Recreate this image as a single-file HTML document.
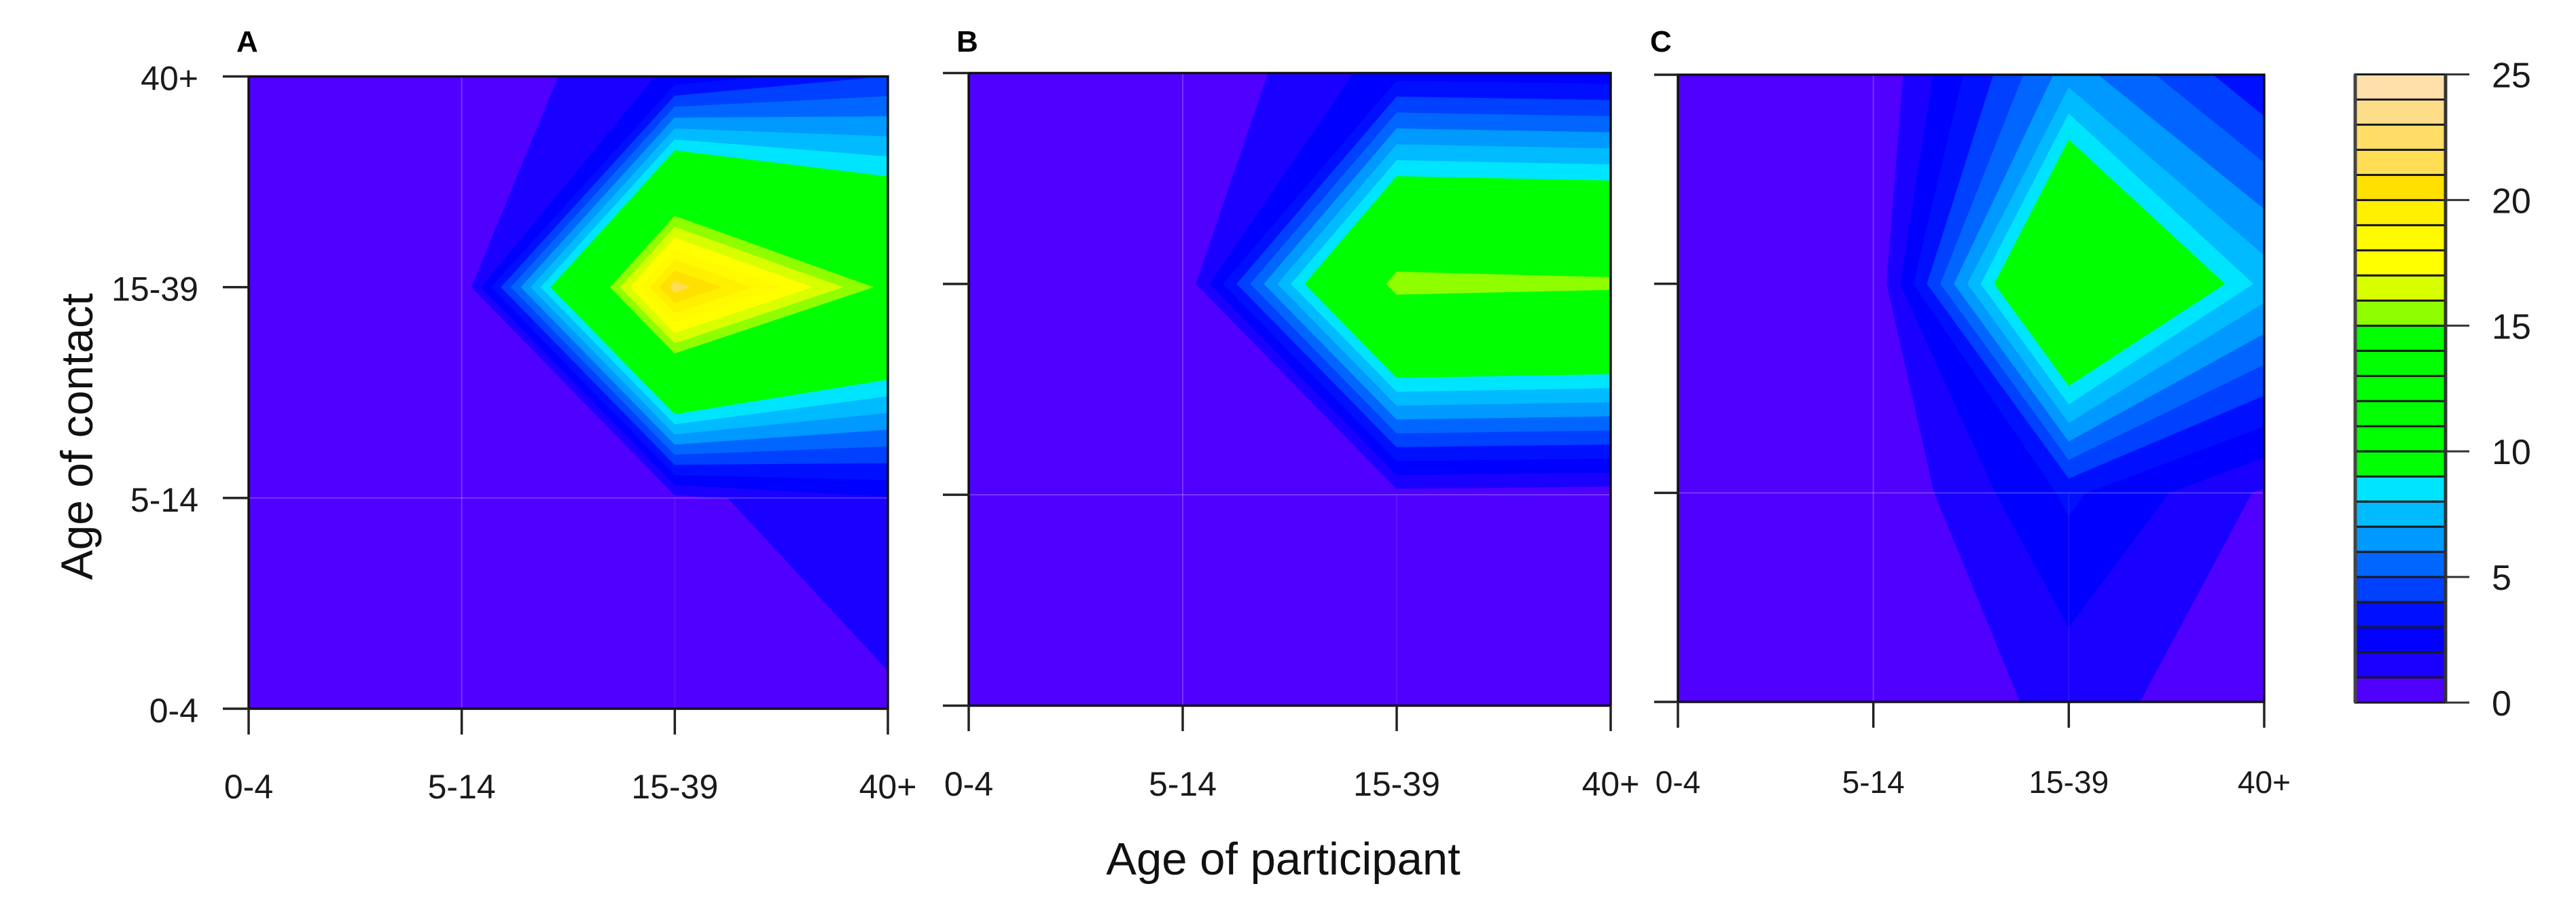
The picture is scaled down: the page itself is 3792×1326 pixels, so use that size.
<!DOCTYPE html>
<html lang="en">
<head>
<meta charset="utf-8">
<title>Contact matrices by age</title>
<style>
html,body{margin:0;padding:0;background:#fff;}
svg{display:block;font-family:"Liberation Sans",sans-serif;fill:#1a1a1a;}
</style>
</head>
<body>
<svg id="chart" xmlns="http://www.w3.org/2000/svg" width="3792" height="1326" viewBox="0 0 3792 1326">
  <rect x="0" y="0" width="3792" height="1326" fill="#ffffff"/>
  <text transform="translate(136,642.5) rotate(-90)" font-size="66" text-anchor="middle" fill="#111">Age of contact</text>
  <text x="1889" y="1287" font-size="67" text-anchor="middle" fill="#111">Age of participant</text>
  <text x="348" y="76" font-size="44" font-weight="bold" fill="#000">A</text>
  <text x="1408" y="76" font-size="44" font-weight="bold" fill="#000">B</text>
  <text x="2429" y="76" font-size="44" font-weight="bold" fill="#000">C</text>
</svg>
<script>
// ---- chart data (rows run from age-of-contact 0-4 up to 40+, columns are age of participant) ----
const categories = ['0-4', '5-14', '15-39', '40+'];
const panelA = [
  [0, 0, 0, 0.8],
  [0, 0, 0.7, 1.9],
  [0, 0, 21.5, 14.5],
  [0, 0, 2.2, 4]
];
const panelB = [
  [0, 0, 0, 0],
  [0, 0, 0.55, 0.4],
  [0, 0, 15.75, 15.4],
  [0, 0, 2.5, 2.3]
];
const panelC = [
  [0, 0, 1.33, 0.42],
  [0, 0, 3.2, 0.85],
  [0, 0, 14.5, 7.6],
  [0, 0, 6.5, 3.1]
];
const legendTicks = [0, 5, 10, 15, 20, 25];
const bandColors = [
  '#5000FF', '#1A00FF', '#0000FF', '#0010FF', '#0040FF', '#0066FF', '#0099FF', '#00BBFF', '#00E5FF',
  '#00FF00', '#00FF00', '#00FF00', '#00FF00', '#00FF00', '#00FF00',
  '#8FFF00', '#D8FF00', '#FFFF00', '#FFFA00', '#FFF000', '#FFE000', '#FFDD55', '#FFDD66', '#FFDD88', '#FFE0AA'
];

// ---- layout ----
const NS = 'http://www.w3.org/2000/svg';
const svg = document.getElementById('chart');
const layouts = [
  { id: 'a', z: panelA, left: 366, right: 1307, top: 112.5, bottom: 1043, tickLeft: 328, tickBottom: 1081, labelY: 1175, font: 50, yLabels: true },
  { id: 'b', z: panelB, left: 1426, right: 2371, top: 107.5, bottom: 1038.5, tickLeft: 1388, tickBottom: 1076, labelY: 1171, font: 50, yLabels: false },
  { id: 'c', z: panelC, left: 2470, right: 3333, top: 110, bottom: 1033, tickLeft: 2435, tickBottom: 1071, labelY: 1167, font: 46, yLabels: false }
];
const legendBox = { left: 3467, right: 3600, top: 109.5, bottom: 1034, tickEnd: 3635, labelX: 3668, font: 52 };

function make(tag, attrs, parent) {
  const el = document.createElementNS(NS, tag);
  for (const k in attrs) el.setAttribute(k, attrs[k]);
  (parent || svg).appendChild(el);
  return el;
}
function xScale(p, i) { return p.left + (p.right - p.left) * i / (categories.length - 1); }
function yScale(p, j) { return p.bottom - (p.bottom - p.top) * j / (categories.length - 1); }
function legendY(v) { return legendBox.bottom - (legendBox.bottom - legendBox.top) * v / (bandColors.length); }

// One cell's band polygon: walk the perimeter, keep corners inside the band
// (both boundaries inclusive, so a corner sitting exactly on a level is kept)
// and add the crossings of the lo / hi levels on each edge.
function cellBand(pts, lo, hi) {
  const out = [];
  for (let e = 0; e < 4; e++) {
    const a = pts[e], b = pts[(e + 1) % 4];
    if (a.z >= lo && a.z <= hi) out.push([a.x, a.y]);
    const levels = [lo, hi];
    if (a.z > b.z) levels.reverse();
    for (const l of levels) {
      if (Math.min(a.z, b.z) < l && l < Math.max(a.z, b.z)) {
        const t = (l - a.z) / (b.z - a.z);
        out.push([a.x + (b.x - a.x) * t, a.y + (b.y - a.y) * t]);
      }
    }
  }
  return out;
}

function bandPath(p, lo, hi) {
  let d = '';
  for (let j = 0; j < categories.length - 1; j++) {
    for (let i = 0; i < categories.length - 1; i++) {
      const corners = [
        { x: xScale(p, i), y: yScale(p, j), z: p.z[j][i] },
        { x: xScale(p, i + 1), y: yScale(p, j), z: p.z[j][i + 1] },
        { x: xScale(p, i + 1), y: yScale(p, j + 1), z: p.z[j + 1][i + 1] },
        { x: xScale(p, i), y: yScale(p, j + 1), z: p.z[j + 1][i] }
      ];
      const poly = cellBand(corners, lo, hi);
      if (poly.length >= 3) {
        d += 'M' + poly.map(q => q[0].toFixed(1) + ' ' + q[1].toFixed(1)).join('L') + 'Z';
      }
    }
  }
  return d;
}

layouts.forEach(function (p) {
  const panel = make('g', {});
  
  

  bandColors.forEach(function (color, b) {
    const d = bandPath(p, b, b + 1);
    if (!d) return;
    const band = make('path', { d: d, fill: color, stroke: color, 'stroke-width': 1, 'stroke-linejoin': 'round' }, panel);
    
    
  });

  // faint seams visible at the inner grid lines
  const seamV1 = make('line', { x1: xScale(p, 1), x2: xScale(p, 1), y1: p.top, y2: p.bottom, stroke: 'rgba(255,255,255,0.2)', 'stroke-width': 2 }, panel);
  
  
  const seamV2 = make('line', { x1: xScale(p, 2), x2: xScale(p, 2), y1: yScale(p, 1), y2: p.bottom, stroke: 'rgba(255,255,255,0.07)', 'stroke-width': 2 }, panel);
  
  
  const seamH = make('line', { x1: p.left, x2: p.right, y1: yScale(p, 1), y2: yScale(p, 1), stroke: 'rgba(255,255,255,0.22)', 'stroke-width': 2 }, panel);
  
  

  // frame
  const frame = make('path', {
    d: 'M' + p.left + ' ' + p.top + 'H' + p.right + 'V' + p.bottom + 'H' + p.left + 'Z',
    fill: 'none', stroke: '#111', 'stroke-width': 3.5
  }, panel);
  
  

  categories.forEach(function (label, i) {
    const xt = make('line', { x1: xScale(p, i), x2: xScale(p, i), y1: p.bottom, y2: p.tickBottom, stroke: '#222', 'stroke-width': 3.5 }, panel);
    
    
    const xl = make('text', { x: xScale(p, i), y: p.labelY, 'font-size': p.font, 'text-anchor': 'middle' }, panel);
    
    
    xl.textContent = label;

    const yt = make('line', { x1: p.tickLeft, x2: p.left, y1: yScale(p, i), y2: yScale(p, i), stroke: '#222', 'stroke-width': 3.5 }, panel);
    
    
    if (p.yLabels) {
      const yl = make('text', { x: 292, y: yScale(p, i) + 20, 'font-size': p.font, 'text-anchor': 'end' }, panel);
      
      
      yl.textContent = label;
    }
  });
});

// ---- colour legend ----
const legend = make('g', {});


bandColors.forEach(function (color, b) {
  const swatch = make('rect', {
    x: legendBox.left, width: legendBox.right - legendBox.left,
    y: legendY(b + 1), height: legendY(b) - legendY(b + 1),
    fill: color, stroke: '#1a1a1a', 'stroke-width': 3
  }, legend);
  
  
});
const legendLeft = make('line', { x1: legendBox.left, x2: legendBox.left, y1: legendBox.top, y2: legendBox.bottom, stroke: '#444', 'stroke-width': 5 }, legend);


const legendRight = make('line', { x1: legendBox.right, x2: legendBox.right, y1: legendBox.top, y2: legendBox.bottom, stroke: '#333', 'stroke-width': 5 }, legend);


legendTicks.forEach(function (v) {
  const tick = make('line', { x1: legendBox.right, x2: legendBox.tickEnd, y1: legendY(v), y2: legendY(v), stroke: '#333', 'stroke-width': 3 }, legend);
  
  
  const label = make('text', { x: legendBox.labelX, y: legendY(v) + 19, 'font-size': legendBox.font }, legend);
  
  
  label.textContent = v;
});
</script>
</body>
</html>
